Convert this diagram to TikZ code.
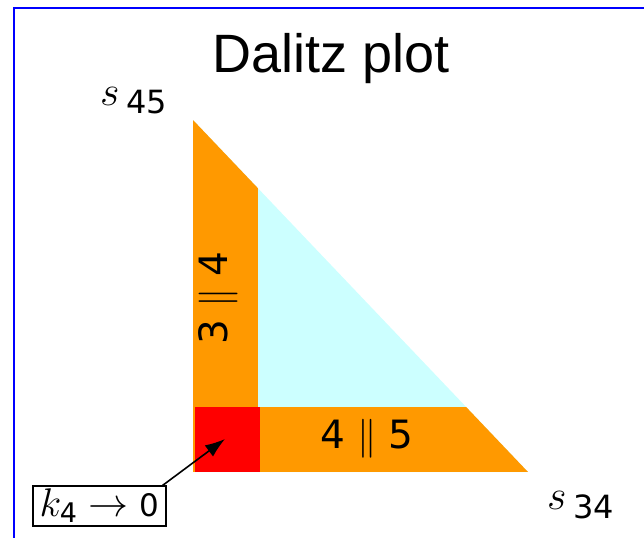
\RequirePackage{fix-cm}
\documentclass[tikz,border=0pt]{standalone}
\usepackage{fontspec}
\setmainfont{Liberation Sans}
\newfontfamily\digitfont{DejaVu Sans}
\usetikzlibrary{
  arrows.meta,
  positioning
}
\definecolor{StripOrange}{HTML}{FF9900}
\definecolor{PhaseCyan}{HTML}{CCFFFF}
\definecolor{CornerRed}{HTML}{FF0000}
\definecolor{FrameBlue}{HTML}{0000FF}
\newcommand{\subdigits}[2][32]{\hbox{\digitfont\fontsize{#1}{#1}\selectfont #2}}
\tikzset{
  title/.style={
    font=\fontsize{54}{58}\selectfont,
    inner sep=0pt
  },
  axislabel/.style={
    font=\fontsize{42}{44}\selectfont,
    inner sep=0pt
  },
  striplabel/.style={
    font=\digitfont\fontsize{39}{42}\selectfont,
    inner sep=0pt
  },
  limitbox/.style={
    draw,
    line width=1.2pt,
    inner sep=1pt,
    minimum width=133pt,
    minimum height=40pt,
    font=\fontsize{40}{42}\selectfont
  },
  pointer/.style={
    -{Latex[length=20pt,width=14pt]},
    line width=1.6pt
  }
}
\begin{document}
\begin{tikzpicture}[x=1pt,y=-1pt]

  \useasboundingbox (0,0) rectangle (644,538);

  % frame
  \draw[FrameBlue, line width=1.5pt] (644,8) -- (14,8) -- (14,538);

  \coordinate (apex) at (193,120);
  \coordinate (corner) at (193,472);
  \coordinate (end) at (528,472);

  % phase space
  \fill[PhaseCyan] (apex) -- (corner) -- (end) -- cycle;
  \begin{scope}
    \clip (apex) -- (corner) -- (end) -- cycle;
    \fill[StripOrange] (193,100) rectangle (258,472);
    \fill[StripOrange] (193,407) rectangle (560,472);
    \fill[CornerRed] (195,407) rectangle (260,472);
  \end{scope}

  \node[title, anchor=base] (title) at (331,72) {Dalitz plot};

  \node[axislabel, anchor=base west] (s45) at (100,105) {$s_{\kern7pt\subdigits{45}}$};
  \node[axislabel, anchor=base west] (s34) at (547,509) {$s_{\kern7pt\subdigits{34}}$};

  \node[striplabel, rotate=90] (strip34) at (218,298) {3\hspace{0.3em}$\|$\hspace{0.3em}4};
  \node[striplabel, anchor=base] (strip45) at (367,448) {4\hspace{0.3em}$\|$\hspace{0.3em}5};

  \node[limitbox] (limit) at (99.5,506) {$k_{\subdigits[27]{4}}\to$\;{\digitfont\fontsize{31}{31}\selectfont 0}};
  \coordinate (tip) at (225,439);

  \draw[pointer] ([xshift=-4pt]limit.north east) -- (tip);

\end{tikzpicture}
\end{document}
